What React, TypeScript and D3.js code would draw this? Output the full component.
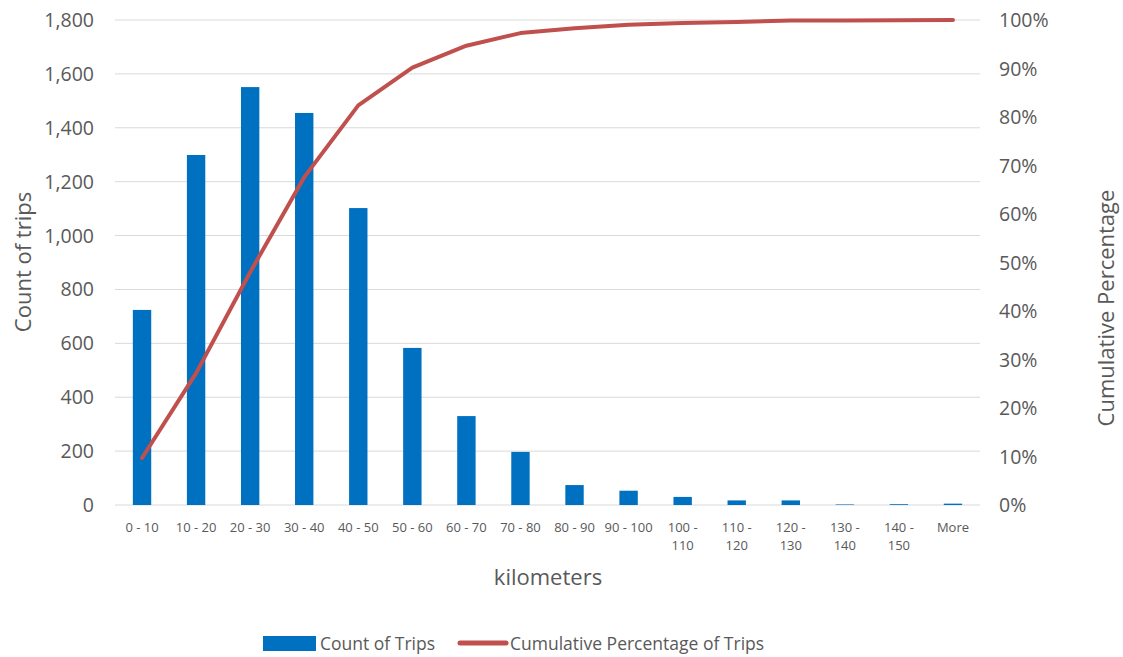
import React from 'react';
import * as d3 from 'd3';

const categories = [
  '0 - 10', '10 - 20', '20 - 30', '30 - 40', '40 - 50', '50 - 60', '60 - 70', '70 - 80',
  '80 - 90', '90 - 100', '100 - 110', '110 - 120', '120 - 130', '130 - 140', '140 - 150', 'More',
];
const tripCounts = [724, 1299, 1551, 1455, 1102, 583, 330, 197, 74, 53, 30, 17, 17, 2, 3, 5];
const cumulativePct = [0.097, 0.272, 0.48, 0.676, 0.824, 0.902, 0.947, 0.973, 0.983, 0.99, 0.994, 0.996, 0.999, 0.999, 0.9995, 1.0];
const countTicks = [0, 200, 400, 600, 800, 1000, 1200, 1400, 1600, 1800];
const pctTicks = [0, 0.1, 0.2, 0.3, 0.4, 0.5, 0.6, 0.7, 0.8, 0.9, 1.0];

const W = 1123;
const H = 657;
const left = 115;
const right = 980;
const top = 20;
const bottom = 505;
const font = '"Open Sans", "Liberation Sans", sans-serif';
const textColor = '#595959';

export default function App() {
  const x = d3.scaleBand().domain(categories).range([left, right]).paddingInner(0.66).paddingOuter(0.33);
  const yCount = d3.scaleLinear().domain([0, 1800]).range([bottom, top]);
  const yPct = d3.scaleLinear().domain([0, 1]).range([bottom, top]);
  const cx = (c: string) => (x(c) || 0) + x.bandwidth() / 2;

  const line = d3.line<number>()
    .x((_, i) => cx(categories[i]))
    .y(d => yPct(d));

  return (
    <svg width={W} height={H} style={{ position: 'absolute', left: 0, top: 0, fontFamily: font }}>
      <rect width={W} height={H} fill="#fff" />
      {countTicks.map(t => (
        <line key={t} x1={left} x2={right} y1={yCount(t)} y2={yCount(t)} stroke="#d9d9d9" strokeWidth={1} />
      ))}
      {countTicks.map(t => (
        <text key={'l' + t} x={94} y={yCount(t)} dy="0.36em" textAnchor="end" fontSize={19.5} fill={textColor}>
          {d3.format(',')(t)}
        </text>
      ))}
      {pctTicks.map(t => (
        <text key={'r' + t} x={999} y={yPct(t)} dy="0.36em" textAnchor="start" fontSize={19.5} fill={textColor}>
          {d3.format('.0%')(t)}
        </text>
      ))}
      {categories.map((c, i) => (
        <rect key={c} x={x(c)} y={yCount(tripCounts[i])} width={x.bandwidth()}
          height={bottom - yCount(tripCounts[i])} fill="#0070c0" />
      ))}
      {categories.map(c => {
        const parts = c.startsWith('1') && c.length > 8 ? [c.slice(0, c.indexOf('-') + 1), c.slice(c.indexOf('-') + 2)] : [c];
        return (
          <text key={'x' + c} x={cx(c)} y={532} textAnchor="middle" fontSize={13} fill={textColor}>
            {parts.map((p, j) => (
              <tspan key={j} x={cx(c)} dy={j === 0 ? 0 : 18}>{p}</tspan>
            ))}
          </text>
        );
      })}
      <path d={line(cumulativePct) || ''} fill="none" stroke="#c0504d" strokeWidth={4} strokeLinejoin="round" strokeLinecap="round" />
      <text x={548} y={585} textAnchor="middle" fontSize={22} fill={textColor}>kilometers</text>
      <text transform={`translate(31,262) rotate(-90)`} textAnchor="middle" fontSize={22} fill={textColor}>Count of trips</text>
      <text transform={`translate(1114,308) rotate(-90)`} textAnchor="middle" fontSize={22} fill={textColor}>Cumulative Percentage</text>
      <rect x={263} y={636} width={53} height={15} fill="#0070c0" />
      <text x={320} y={650} fontSize={17.5} fill={textColor}>Count of Trips</text>
      <line x1={460} x2={506} y1={643} y2={643} stroke="#c0504d" strokeWidth={5} strokeLinecap="round" />
      <text x={510} y={650} fontSize={17.5} fill={textColor}>Cumulative Percentage of Trips</text>
    </svg>
  );
}
